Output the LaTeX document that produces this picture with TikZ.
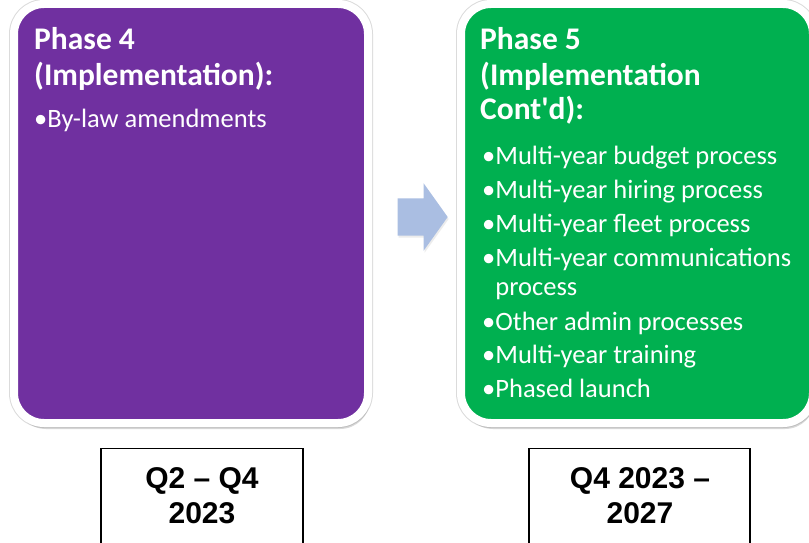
\documentclass[tikz,border=0pt]{standalone}
\usepackage{fontspec}
\setmainfont{Carlito}
\newfontfamily\arialfont{Liberation Sans}
\usepackage{xcolor}
\usetikzlibrary{shapes.arrows,shadows}

\definecolor{phasepurple}{RGB}{112,48,160}
\definecolor{phasegreen}{RGB}{0,176,80}
\definecolor{arrowblue}{RGB}{170,190,226}

\tikzset{
  phasebox/.style={draw=white, line width=8pt, rounded corners=30pt, anchor=north west,
    outer sep=0pt, preaction={draw=black!14, line width=10pt},
    drop shadow={shadow xshift=2pt, shadow yshift=-6pt, opacity=.3}},
  phasehead/.style={anchor=base west, inner sep=0pt, text=white,
    font=\fontsize{31.5}{35}\selectfont\bfseries},
  phaseitem/.style={anchor=base west, inner sep=0pt, text=white,
    font=\fontsize{26.5}{29}\selectfont},
  datebox/.style={draw=black, line width=1.4pt, anchor=north, minimum height=130pt},
  datetext/.style={anchor=base, inner sep=0pt,
    font=\arialfont\bfseries\fontsize{30}{35}\selectfont}
}

\begin{document}
\begin{tikzpicture}[x=1pt,y=-1pt,line cap=round]
\clip (0,0) rectangle (809,543);
\fill[white] (0,0) rectangle (809,543);
% phase boxes
\node[phasebox, fill=phasepurple, minimum width=354pt, minimum height=419pt] (ph4) at (14,4) {};
\node[phasebox, fill=phasegreen, minimum width=352pt, minimum height=419pt] (ph5) at (461,4) {};
% block arrow
\node[single arrow, fill=arrowblue, inner sep=0pt, text height=37pt, text depth=0pt,
  minimum height=50pt, single arrow head extend=15pt, single arrow tip angle=109,
  drop shadow={shadow xshift=1pt, shadow yshift=-2pt, opacity=.15}] (step) at (416,217) {};
% phase 4 text
\node[phasehead] (ph4h1) at (34,50) {Phase 4};
\node[phasehead] (ph4h2) at (34,85) {(Implementation):};
\node[phaseitem] (ph4b1) at (34,127) {•By-law amendments};
% phase 5 text
\node[phasehead] (ph5h1) at (480,50) {Phase 5};
\node[phasehead] (ph5h2) at (480,85) {(Implementation};
\node[phasehead] (ph5h3) at (480,120) {Cont\textquotesingle d):};
\node[phaseitem] (ph5b1) at (482,164) {•Multi-year budget process};
\node[phaseitem] (ph5b2) at (482,198) {•Multi-year hiring process};
\node[phaseitem] (ph5b3) at (482,232) {•Multi-year fleet process};
\node[phaseitem] (ph5b4) at (482,266) {•Multi-year communications};
\node[phaseitem] (ph5b4b) at (482,295) {\phantom{•}process};
\node[phaseitem] (ph5b5) at (482,330) {•Other admin processes};
\node[phaseitem] (ph5b6) at (482,363) {•Multi-year training};
\node[phaseitem] (ph5b7) at (482,397) {•Phased launch};
% dates
\node[datebox, minimum width=202pt] (date4) at (202,448) {};
\node[datebox, minimum width=221pt] (date5) at (639.5,448) {};
\node[datetext] (date4a) at (202,488) {Q2 – Q4};
\node[datetext] (date4b) at (202,523) {2023};
\node[datetext] (date5a) at (640,488) {Q4 2023 –};
\node[datetext] (date5b) at (640,523) {2027};
\end{tikzpicture}
\end{document}
